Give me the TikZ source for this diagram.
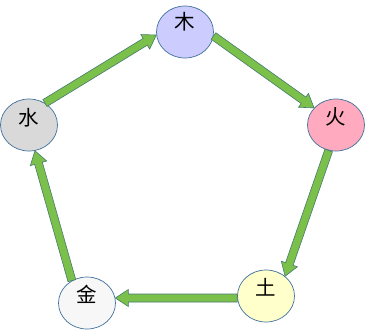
\documentclass[tikz,border=0pt]{standalone}
\usepackage{fontspec}
\newfontfamily\cjkfont{Noto Sans CJK SC}
\usetikzlibrary{calc,shapes.geometric}

\definecolor{woodfill}{RGB}{204,204,255}
\definecolor{firefill}{RGB}{255,170,190}
\definecolor{earthfill}{RGB}{255,255,204}
\definecolor{metalfill}{RGB}{247,247,247}
\definecolor{waterfill}{RGB}{217,217,217}
\definecolor{rimblue}{RGB}{65,113,156}
\definecolor{flowgreen}{RGB}{122,192,74}
\definecolor{flowrim}{RGB}{72,122,112}

\begin{document}
\begin{tikzpicture}[x=1pt,y=-1pt,
    elem/.style={ellipse,draw=rimblue,line width=0.7pt,minimum width=57pt,minimum height=52pt,inner sep=0pt},
    glyph/.style={font=\cjkfont\fontsize{20.5}{20.5}\selectfont,inner sep=0pt},
    flow/.style={fill=flowgreen,draw=flowrim,line width=0.6pt,line join=miter,
        to path={let \p1=($(\tikztotarget)-(\tikztostart)$),\n1={atan2(\y1,\x1)} in
            ($(\tikztostart)+(\n1+90:4pt)$)
            -- ($(\tikztotarget)+(\n1:-13pt)+(\n1+90:4pt)$)
            -- ($(\tikztotarget)+(\n1:-13pt)+(\n1+90:8.5pt)$)
            -- (\tikztotarget)
            -- ($(\tikztotarget)+(\n1:-13pt)+(\n1-90:8.5pt)$)
            -- ($(\tikztotarget)+(\n1:-13pt)+(\n1-90:4pt)$)
            -- ($(\tikztostart)+(\n1-90:4pt)$) -- cycle}}
]
\useasboundingbox (0,0) rectangle (366,330);

\node[elem,fill=woodfill]  (wood)  at (185,32)  {};
\node[elem,fill=firefill]  (fire)  at (336,125) {};
\node[elem,fill=earthfill] (earth) at (266,296) {};
\node[elem,fill=metalfill] (metal) at (87,303)  {};
\node[elem,fill=waterfill] (water) at (29,125)  {};

\node[glyph] (woodtxt)  at ([yshift=10pt]wood.center)  {木};
\node[glyph] (firetxt)  at ([yshift=8pt]fire.center)   {火};
\node[glyph] (earthtxt) at ([yshift=9pt]earth.center)  {土};
\node[glyph] (metaltxt) at ([yshift=8.5pt]metal.center) {金};
\node[glyph] (watertxt) at ([yshift=7pt]water.center)  {水};

\draw[flow] (water.54) to (wood.186);
\draw[flow] (wood.-8)  to (fire.142);
\draw[flow] (fire.254) to (earth.46);
\draw[flow] (earth.184) to (metal.10);
\draw[flow] (metal.124) to (water.-77);
\end{tikzpicture}
\end{document}
